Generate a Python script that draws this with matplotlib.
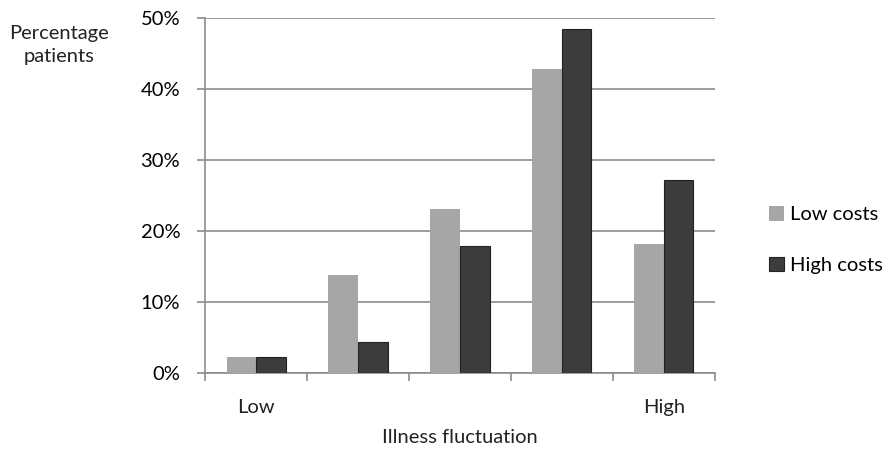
import numpy as np
import matplotlib.pyplot as plt
from matplotlib.ticker import PercentFormatter

plt.rcParams['font.family'] = ['Lato', 'DejaVu Sans']

# data
groups = ["Low", "", "", "", "High"]
low_costs = [2.2, 13.8, 23.1, 42.8, 18.2]
high_costs = [2.2, 4.4, 17.9, 48.5, 27.2]

fig = plt.figure(figsize=(8.88, 4.5), dpi=100)
ax = fig.add_axes([0.231, 0.171, 0.574, 0.789])

x = np.arange(len(groups))
w = 0.29
ax.bar(x - w / 2, low_costs, w, color="#a6a6a6", label="Low costs", zorder=3)
ax.bar(x + w / 2, high_costs, w, color="#3c3c3c", edgecolor="#222222", linewidth=0.8,
       label="High costs", zorder=3)

ax.set_xlim(-0.5, len(groups) - 0.5)
ax.set_ylim(0, 50)
ax.set_yticks(range(0, 51, 10))
ax.yaxis.set_major_formatter(PercentFormatter(decimals=0))
ax.grid(axis="y", color="#8c8c8c", linewidth=1.2, zorder=0)

ax.set_xticks(np.arange(-0.5, len(groups), 1.0))
ax.set_xticklabels([])
ax.tick_params(axis="x", length=6, color="#8c8c8c", width=1.2)
ax.tick_params(axis="y", length=6, color="#8c8c8c", width=1.2, labelsize=14.5, pad=12)

for s in ["top", "right"]:
    ax.spines[s].set_visible(False)
for s in ["left", "bottom"]:
    ax.spines[s].set_color("#8c8c8c")
    ax.spines[s].set_linewidth(1.2)

for i, g in enumerate(groups):
    if g:
        ax.text(i, -4.8, g, ha="center", va="center", fontsize=14.5, color="#222222")

ax.set_xlabel("Illness fluctuation", fontsize=14.5, color="#222222", labelpad=31)
fig.text(0.066, 0.9, "Percentage\npatients", ha="center", va="center", fontsize=14.5,
         color="#222222", linespacing=1.45)

leg = ax.legend(loc="center left", bbox_to_anchor=(1.07, 0.375), frameon=False, fontsize=14.5,
                handlelength=0.75, handleheight=0.75, handletextpad=0.3, labelspacing=1.65)

fig.savefig("out.png", dpi=100)
